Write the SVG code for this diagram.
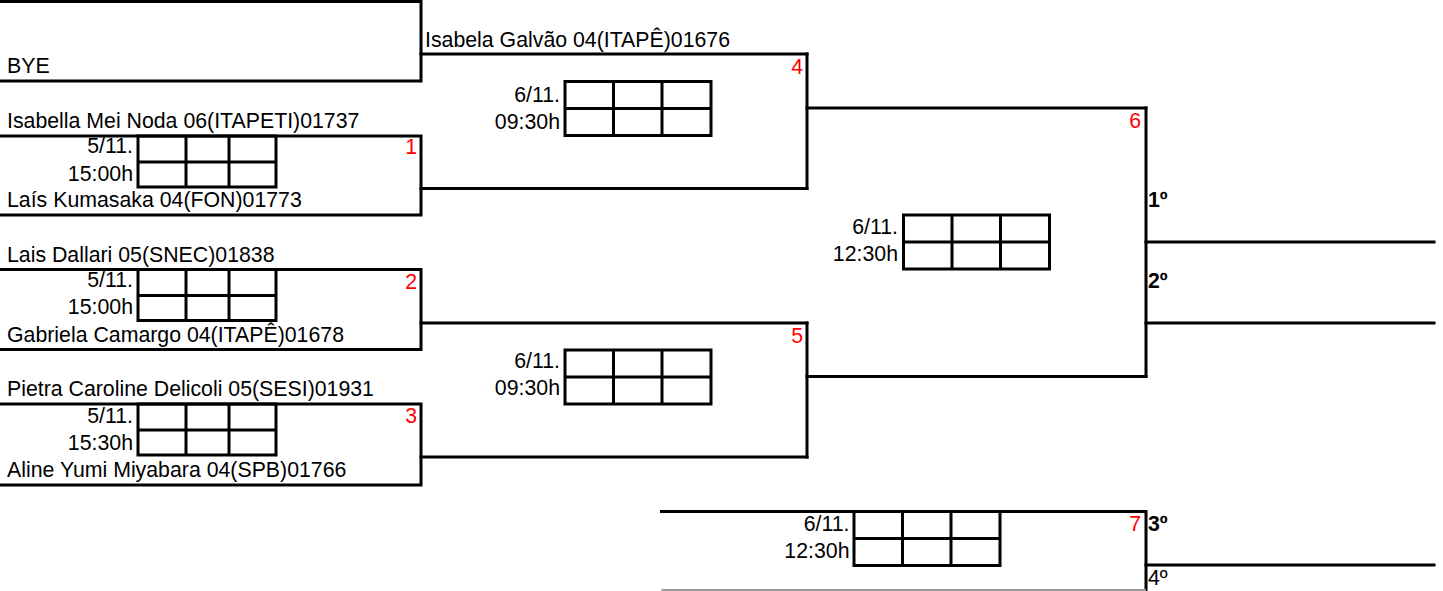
<svg xmlns="http://www.w3.org/2000/svg" width="1443" height="591" viewBox="0 0 1443 591">
<style>
.ln{stroke:#000;stroke-width:3;fill:none;stroke-linecap:square}
.t{font-family:"Liberation Sans",Arial,sans-serif;font-size:21.3px;fill:#000}
.r{text-anchor:end}
.red{font-family:"Liberation Sans",Arial,sans-serif;font-size:21.3px;fill:#ff0000;text-anchor:end}
.b{font-weight:bold}
</style>
<defs>
<path id="gs" class="ln" d="M0,0H138V51H0Z M0,26H138 M48,0V51 M91,0V51"/>
<path id="gl" class="ln" d="M0,0H146V54H0Z M0,27H146 M48.5,0V54 M97,0V54"/>
</defs>
<rect width="1443" height="591" fill="#fff"/>

<g id="bye">
<path class="ln" d="M0,1.5H421V81H0"/>
<text class="t" x="7" y="73">BYE</text>
</g>

<g id="match1">
<path class="ln" d="M0,136H421V215H0"/>
<use href="#gs" x="138" y="136"/>
<text class="t" x="7" y="128">Isabella Mei Noda 06(ITAPETI)01737</text>
<text class="t r" x="133" y="153">5/11.</text>
<text class="t r" x="133" y="180.5">15:00h</text>
<text class="t" x="7" y="207">Laís Kumasaka 04(FON)01773</text>
<text class="red" x="417" y="154">1</text>
</g>

<g id="match2">
<path class="ln" d="M0,269.5H421V349.5H0"/>
<use href="#gs" x="138" y="269.5"/>
<text class="t" x="7" y="261.5">Lais Dallari 05(SNEC)01838</text>
<text class="t r" x="133" y="287">5/11.</text>
<text class="t r" x="133" y="314">15:00h</text>
<text class="t" x="7" y="342">Gabriela Camargo 04(ITAPÊ)01678</text>
<text class="red" x="417" y="288.5">2</text>
</g>

<g id="match3">
<path class="ln" d="M0,404H421V485H0"/>
<use href="#gs" x="138" y="404"/>
<text class="t" x="7" y="396">Pietra Caroline Delicoli 05(SESI)01931</text>
<text class="t r" x="133" y="422.5">5/11.</text>
<text class="t r" x="133" y="449.5">15:30h</text>
<text class="t" x="7" y="477">Aline Yumi Miyabara 04(SPB)01766</text>
<text class="red" x="417" y="423">3</text>
</g>

<g id="match4">
<path class="ln" d="M807,54V188.5"/>
<use href="#gl" x="565" y="81.5"/>
<text class="t" x="425" y="46.5">Isabela Galvão 04(ITAPÊ)01676</text>
<text class="t r" x="560" y="101.7">6/11.</text>
<text class="t r" x="560" y="128.5">09:30h</text>
<text class="red" x="803" y="73.5">4</text>
</g>

<g id="match5">
<path class="ln" d="M807,323V457"/>
<use href="#gl" x="565" y="350"/>
<text class="t r" x="560" y="368.3">6/11.</text>
<text class="t r" x="560" y="395">09:30h</text>
<text class="red" x="803" y="342.7">5</text>
</g>

<g id="match6">
<path class="ln" d="M1146,108V376.5"/>
<use href="#gl" x="903.5" y="215"/>
<text class="t r" x="898" y="234.3">6/11.</text>
<text class="t r" x="898" y="260.7">12:30h</text>
<text class="red" x="1141" y="127.5">6</text>
<text class="t b" x="1148" y="206.7">1º</text>
<text class="t b" x="1148" y="287.7">2º</text>
</g>

<g id="match7">
<path class="ln" d="M661.5,511.5H1146V592"/>
<path d="M661.5,590H1146" stroke="#9a9a9a" stroke-width="2" fill="none"/>
<use href="#gl" x="854" y="511.5"/>
<text class="t r" x="849.5" y="531">6/11.</text>
<text class="t r" x="849.5" y="558">12:30h</text>
<text class="red" x="1141" y="531">7</text>
<text class="t b" x="1148" y="531">3º</text>
<text class="t" x="1148" y="585">4º</text>
</g>

<g id="connectors">
<path class="ln" d="M421,54H807"/>
<path class="ln" d="M421,188.5H807"/>
<path class="ln" d="M421,323H807"/>
<path class="ln" d="M421,457H807"/>
<path class="ln" d="M807,108H1146"/>
<path class="ln" d="M807,376.5H1146"/>
<path class="ln" d="M1146,242H1434"/>
<path class="ln" d="M1146,323H1434"/>
<path class="ln" d="M1146,565H1434"/>
</g>
</svg>
